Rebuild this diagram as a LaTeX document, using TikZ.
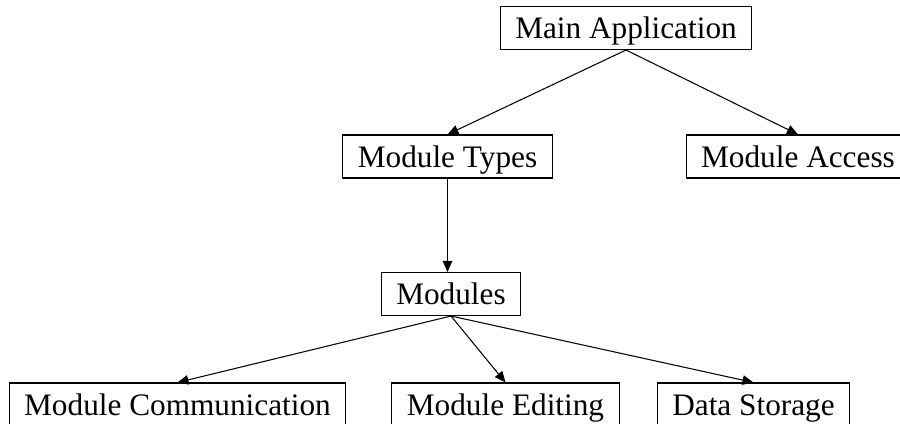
\documentclass[tikz,border=0pt]{standalone}
\usepackage{fontspec}
\setmainfont{Liberation Serif}
\usetikzlibrary{arrows.meta,positioning,calc}

\begin{document}
\begin{tikzpicture}
[x=0.02cm, y=-0.02cm, modbox/.style ={rectangle, draw=black, line width=0.6pt,
inner xsep=0.3cm, inner ysep=0pt, text height=0.64cm, text depth=0.22cm,
font=\fontsize{17.8}{20}\selectfont},
tedge/.style={line width=0.6pt, black, -{Triangle[length=0.22cm,width=0.19cm]}}]
\path[use as bounding box, clip] (0,0) rectangle (900,423);
\node[modbox] (main) at (626,28) {Main Application};
\node[modbox] (types) at (447.5,156.5) {Module Types};
\node[modbox] (access) at (798,156.5) {Module Access};
\node[modbox] (mods) at (451,294) {Modules};
\node[modbox] (comm) at (177.5,404.5) {Module Communication};
\node[modbox] (edit) at (505.5,404.5) {Module Editing};
\node[modbox] (store) at (753.5,404.5) {Data Storage};
\draw[tedge] (main.south) -- (types.north);
\draw[tedge] (main.south) -- (access.north);
\draw[tedge] (types.south) -- (types.south |- mods.north);
\draw[tedge] (mods.south) -- (comm.north);
\draw[tedge] (mods.south) -- (edit.north);
\draw[tedge] (mods.south) -- (store.north);

\end{tikzpicture}
\end{document}
